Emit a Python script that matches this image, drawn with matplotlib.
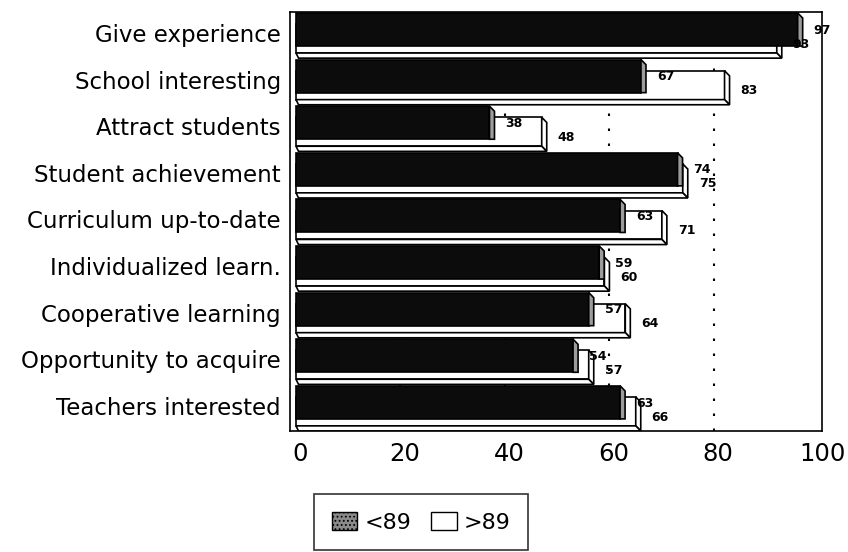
import matplotlib
matplotlib.use("Agg")
import matplotlib.pyplot as plt
from matplotlib.patches import Polygon, Patch
from matplotlib.transforms import ScaledTranslation

categories = ["Give experience", "School interesting", "Attract students",
              "Student achievement", "Curriculum up-to-date",
              "Individualized learn.", "Cooperative learning",
              "Opportunity to acquire", "Teachers interested"]
below_89 = [97, 67, 38, 74, 63, 59, 57, 54, 63]
above_89 = [93, 83, 48, 75, 71, 60, 64, 57, 66]
series_labels = ["<89", ">89"]
x_ticks = [0, 20, 40, 60, 80, 100]

plt.rcParams['font.family'] = ['DejaVu Sans']
plt.rcParams['hatch.linewidth'] = 0.8

fig = plt.figure(figsize=(8.48, 5.52), dpi=100)
ax = fig.add_axes([290 / 848, 1 - 431 / 552, 532 / 848, 419 / 552])
ax.set_xlim(-1.15, 100.7)
ax.set_ylim(8.54, -0.45)

DX = 0.96   # depth of the bar ends along x (data units)
DY = 0.11   # depth along the category axis
EDGE = 1.2

for x in x_ticks[1:-1]:
    ax.axvline(x, color='black', lw=1.5, ls=(0, (1.2, 6)), zorder=1)

for i, (a, b) in enumerate(zip(below_89, above_89)):
    # rear bar (>89)
    top, bot = i - 0.19, i + 0.43
    ax.barh((top + bot) / 2, b - DX, height=bot - top, left=0,
            color='white', edgecolor='black', lw=EDGE, zorder=2)
    ax.add_patch(Polygon([(b - DX, top), (b, top + DY), (b, bot + DY), (b - DX, bot)],
                         closed=True, facecolor='white', edgecolor='black',
                         lw=EDGE, zorder=2))
    ax.add_patch(Polygon([(0, bot), (b - DX, bot), (b, bot + DY), (DX * 0.5, bot + DY)],
                         closed=True, facecolor='white', edgecolor='black',
                         lw=EDGE, zorder=2))
    # front bar (<89)
    top, bot = i - 0.43, i + 0.28
    ax.barh((top + bot) / 2, a - DX, height=bot - top, left=0,
            color='#0c0c0c', edgecolor='black', lw=EDGE, zorder=3)
    ax.add_patch(Polygon([(a - DX, top), (a, top + DY), (a, bot), (a - DX, bot)],
                         closed=True, facecolor='#9c9c9c', edgecolor='black',
                         lw=EDGE, zorder=3))
    ax.text(a + 2.1, i - 0.06, str(a), ha='left', va='center',
            fontsize=9, fontweight='bold', zorder=5)
    ax.text(b + 2.1, i + 0.24, str(b), ha='left', va='center',
            fontsize=9, fontweight='bold', zorder=5)

ax.set_yticks(range(len(categories)))
ax.set_yticklabels(categories, fontsize=16.5)
ax.set_xticks(x_ticks)
ax.set_xticklabels([str(t) for t in x_ticks], fontsize=17.5)
ax.tick_params(axis='y', length=0, pad=6.5)
ax.tick_params(axis='x', length=0, pad=8)
shift = ScaledTranslation(4 / 100, 0, fig.dpi_scale_trans)
for lbl in ax.get_xticklabels():
    lbl.set_transform(lbl.get_transform() + shift)
for sp in ax.spines.values():
    sp.set_linewidth(EDGE)
    sp.set_color('black')

handles = [Patch(facecolor='#8a8a8a', edgecolor='black', hatch='....'),
           Patch(facecolor='white', edgecolor='black')]
leg = fig.legend(handles, series_labels, loc='upper center',
                 bbox_to_anchor=(0.4965, 0.105), ncol=2, frameon=True,
                 fancybox=False, edgecolor='black', fontsize=16,
                 handlelength=1.15, handleheight=0.9, handletextpad=0.3,
                 columnspacing=0.9, borderpad=0.8, borderaxespad=0)
leg.get_frame().set_linewidth(EDGE)

fig.savefig('out.png', dpi=100)
